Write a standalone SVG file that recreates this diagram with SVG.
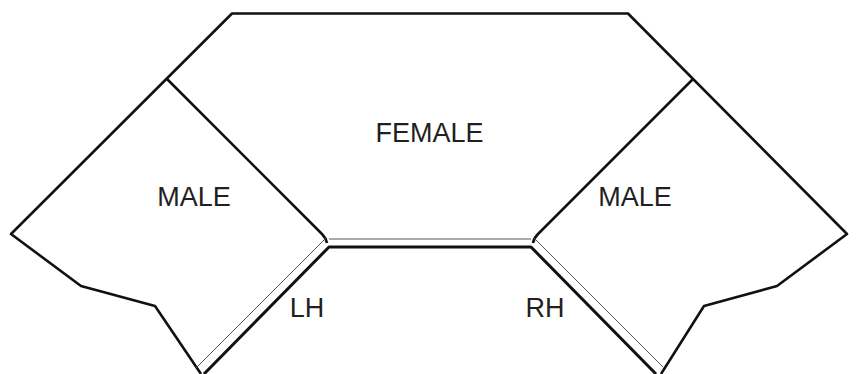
<svg xmlns="http://www.w3.org/2000/svg" width="857" height="374" viewBox="0 0 857 374">
<style>
.o{fill:none;stroke:#111;stroke-width:2.6;stroke-linejoin:round}
.b{fill:none;stroke:#111;stroke-width:3;stroke-linejoin:round}
.t{fill:none;stroke:#555;stroke-width:1}
text{font-family:"Liberation Sans",Arial,sans-serif;font-size:27px;fill:#231f20;text-anchor:middle}
</style>
<rect width="857" height="374" fill="#fff"/>
<g id="connectors">
<path class="o" d="M201 374L155 306L81 286L11 234L232 13.500H628L847 234L777 286L704 306L661 374"/>
<path class="o" d="M167 79L322 234Q326 238 327 243"/>
<path class="o" d="M693 79L538 234Q534 238 533 243"/>
<path class="b" d="M204 374L329 247H531L656 374"/>
<path class="t" d="M196 368L326 238M329 239H531M534 238L663 367"/>
</g>
<g id="female"><text x="429.500" y="142">FEMALE</text></g>
<g id="male-left"><text x="194" y="206">MALE</text></g>
<g id="male-right"><text x="635" y="206">MALE</text></g>
<g id="lh"><text x="307" y="317">LH</text></g>
<g id="rh"><text x="545" y="317">RH</text></g>
</svg>
